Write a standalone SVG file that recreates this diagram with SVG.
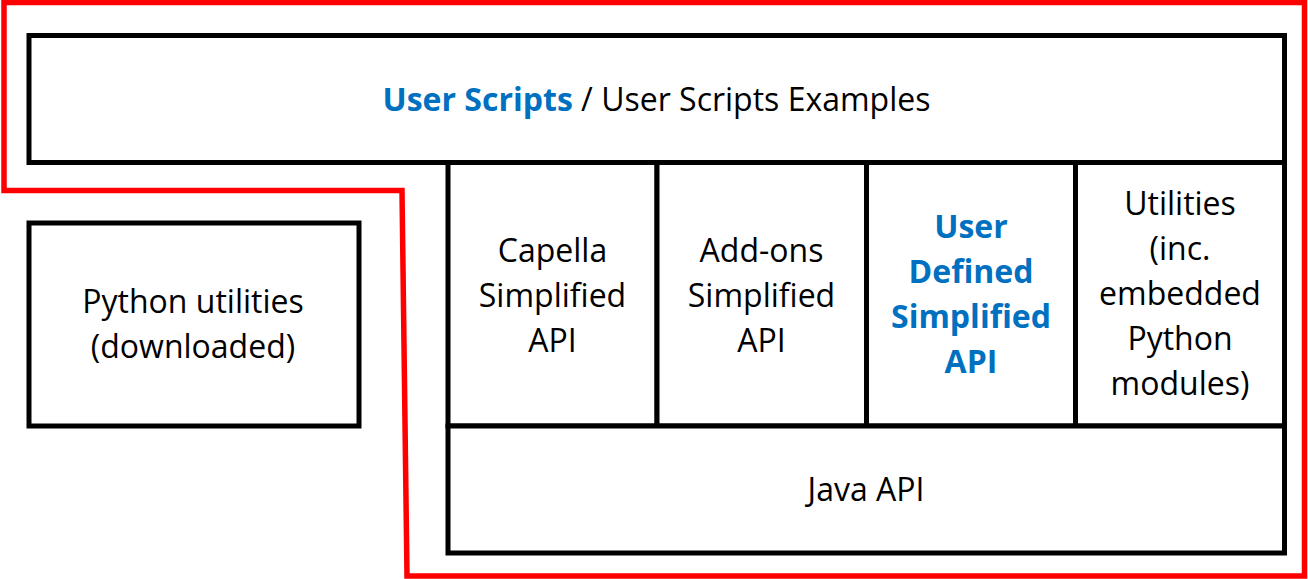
<svg xmlns="http://www.w3.org/2000/svg" width="1308" height="579" viewBox="0 0 1308 579">
<style>
.box{fill:#ffffff;stroke:#000000;stroke-width:5}
.t{font-family:"Open Sans","Liberation Sans",sans-serif;font-size:32px;fill:#000000;text-anchor:middle}
.b{font-weight:bold;fill:#0070C0}
</style>
<rect width="1308" height="579" fill="#ffffff"/>
<g id="scope">
<path d="M4,2.5 H1304.5 V576 H407 L402,190.5 H4 Z" fill="none" stroke="#FF0000" stroke-width="5.5"/>
</g>
<g id="user-scripts">
<rect class="box" x="29" y="35.5" width="1255.5" height="127"/>
<text class="t" x="656.5" y="111"><tspan class="b">User Scripts</tspan> / User Scripts Examples</text>
</g>
<g id="python-utilities">
<rect class="box" x="29" y="223" width="330" height="203"/>
<text class="t" x="194"><tspan x="193" y="313">Python utilities</tspan><tspan x="193" y="358">(downloaded)</tspan></text>
</g>
<g id="capella-api">
<rect class="box" x="448" y="162.5" width="209" height="263.5"/>
<text class="t"><tspan x="552.5" y="262">Capella</tspan><tspan x="552.5" y="307">Simplified</tspan><tspan x="552.5" y="352">API</tspan></text>
</g>
<g id="addons-api">
<rect class="box" x="657" y="162.5" width="209.5" height="263.5"/>
<text class="t"><tspan x="761.5" y="262">Add-ons</tspan><tspan x="761.5" y="307">Simplified</tspan><tspan x="761.5" y="352">API</tspan></text>
</g>
<g id="user-defined-api">
<rect class="box" x="866.5" y="162.5" width="209" height="263.5"/>
<text class="t b"><tspan x="971" y="238">User</tspan><tspan x="971" y="283">Defined</tspan><tspan x="971" y="328">Simplified</tspan><tspan x="971" y="373">API</tspan></text>
</g>
<g id="utilities">
<rect class="box" x="1075.5" y="162.5" width="209" height="263.5"/>
<text class="t"><tspan x="1180" y="215">Utilities</tspan><tspan x="1180" y="260">(inc.</tspan><tspan x="1180" y="305">embedded</tspan><tspan x="1180" y="350">Python</tspan><tspan x="1180" y="395">modules)</tspan></text>
</g>
<g id="java-api">
<rect class="box" x="448" y="426" width="836.5" height="127"/>
<text class="t" x="866" y="501">Java API</text>
</g>
<g id="connectors"></g>
</svg>
